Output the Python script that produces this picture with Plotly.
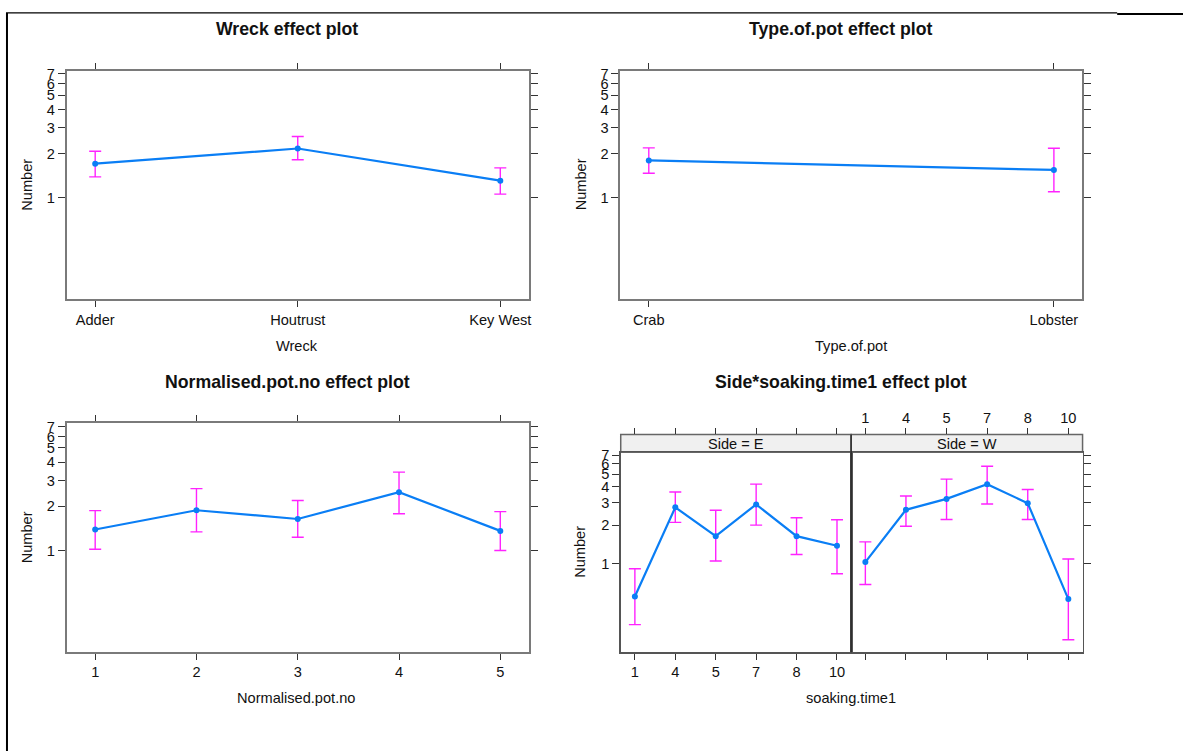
import plotly.graph_objects as go

W, H = 1186, 751

# ---------------- data ----------------
wreck_levels = ["Adder", "Houtrust", "Key West"]
wreck_fit = [1.71, 2.17, 1.31]
wreck_upper = [2.08, 2.62, 1.60]
wreck_lower = [1.39, 1.82, 1.06]

pot_levels = ["Crab", "Lobster"]
pot_fit = [1.80, 1.55]
pot_upper = [2.19, 2.18]
pot_lower = [1.47, 1.10]

potno_levels = [1, 2, 3, 4, 5]
potno_fit = [1.39, 1.88, 1.64, 2.50, 1.36]
potno_upper = [1.87, 2.64, 2.19, 3.42, 1.84]
potno_lower = [1.02, 1.34, 1.23, 1.78, 1.00]

soak_levels = ["1", "4", "5", "7", "8", "10"]
sideE_fit = [0.556, 2.75, 1.64, 2.90, 1.64, 1.38]
sideE_upper = [0.915, 3.62, 2.61, 4.17, 2.28, 2.20]
sideE_lower = [0.336, 2.10, 1.05, 2.00, 1.18, 0.837]
sideW_fit = [1.03, 2.63, 3.20, 4.17, 2.96, 0.531]
sideW_upper = [1.48, 3.37, 4.56, 5.74, 3.79, 1.09]
sideW_lower = [0.689, 1.96, 2.21, 2.92, 2.21, 0.256]

y_ticks = [1, 2, 3, 4, 5, 6, 7]
y_range = [-0.69, 0.868]

LINE = "#0a7ef5"
CI = "#ff22ff"
FONT = "Liberation Sans, Arial, sans-serif"
TS = 14.6


def px_x(p):
    return p / W


def px_y(p):
    return 1 - p / H


fig = go.Figure()


def add_effect(xs, fit, up, lo, xa, ya):
    fig.add_trace(go.Scatter(
        x=xs, y=fit, xaxis=xa, yaxis=ya, mode="lines+markers",
        line=dict(color=LINE, width=2.2),
        marker=dict(color=LINE, size=6, symbol="circle"),
        error_y=dict(type="data", symmetric=False,
                     array=[u - f for u, f in zip(up, fit)],
                     arrayminus=[f - l for f, l in zip(fit, lo)],
                     color=CI, thickness=1.4, width=6),
        showlegend=False, hoverinfo="skip"))


add_effect(wreck_levels, wreck_fit, wreck_upper, wreck_lower, "x", "y")
add_effect(pot_levels, pot_fit, pot_upper, pot_lower, "x2", "y2")
add_effect(potno_levels, potno_fit, potno_upper, potno_lower, "x3", "y3")
add_effect(soak_levels, sideE_fit, sideE_upper, sideE_lower, "x4", "y4")
add_effect(soak_levels, sideW_fit, sideW_upper, sideW_lower, "x5", "y5")
# invisible traces to create the top (overlay) axes of the conditioned panel
fig.add_trace(go.Scatter(x=soak_levels, y=sideE_fit, xaxis="x6", yaxis="y4",
                         mode="markers", marker=dict(opacity=0),
                         showlegend=False, hoverinfo="skip"))
fig.add_trace(go.Scatter(x=soak_levels, y=sideW_fit, xaxis="x7", yaxis="y5",
                         mode="markers", marker=dict(opacity=0),
                         showlegend=False, hoverinfo="skip"))

tickfont = dict(family=FONT, size=TS, color="#111")

base_x = dict(showgrid=False, zeroline=False, showline=True, ticks="outside",
              ticklen=6, tickwidth=1, tickcolor="#333", tickfont=tickfont,
              fixedrange=True)
base_y = dict(type="log", range=y_range, tickvals=y_ticks,
              ticktext=[str(v) for v in y_ticks], showgrid=False,
              zeroline=False, showline=True, ticks="outside", ticklen=7,
              tickwidth=1, tickcolor="#333", tickfont=tickfont, fixedrange=True)

GRAYBOX = dict(linecolor="#7a7a7a", linewidth=2)
COND = dict(linecolor="#555", linewidth=1.5)

# panel boxes (pixels)
P1 = (67, 530, 66, 296)
P2 = (622, 1085, 66, 296)
P3 = (67, 530, 421, 651)
PE = (622.3, 853.3, 450.3, 651.7)
PW = (853.3, 1085.3, 450.3, 651.7)
STRIP_TOP = 432.3


def xdom(p):
    return [px_x(p[0]), px_x(p[1])]


def ydom(p):
    return [px_y(p[3]), px_y(p[2])]


layout = dict(
    width=W, height=H, margin=dict(l=0, r=0, t=0, b=0),
    paper_bgcolor="white", plot_bgcolor="white",
    font=dict(family=FONT, color="#111"),
    xaxis=dict(base_x, **GRAYBOX, domain=xdom(P1), anchor="y", mirror="ticks",
               type="category", categoryarray=wreck_levels,
               range=[-0.14, 2.14]),
    yaxis=dict(base_y, **GRAYBOX, domain=ydom(P1), anchor="x", mirror="ticks"),
    xaxis2=dict(base_x, **GRAYBOX, domain=xdom(P2), anchor="y2", mirror="ticks",
                type="category", categoryarray=pot_levels,
                range=[-0.07, 1.07]),
    yaxis2=dict(base_y, **GRAYBOX, domain=ydom(P2), anchor="x2", mirror="ticks"),
    xaxis3=dict(base_x, **GRAYBOX, domain=xdom(P3), anchor="y3", mirror="ticks",
                tickvals=potno_levels, range=[0.72, 5.28]),
    yaxis3=dict(base_y, **GRAYBOX, domain=ydom(P3), anchor="x3", mirror="ticks"),
    xaxis4=dict(base_x, **COND, domain=xdom(PE),
                anchor="y4", mirror=True, type="category",
                categoryarray=soak_levels, range=[-0.35, 5.35]),
    yaxis4=dict(base_y, **COND, domain=ydom(PE),
                anchor="x4", mirror=True),
    xaxis5=dict(base_x, **COND, domain=xdom(PW),
                anchor="y5", mirror=True, type="category",
                categoryarray=soak_levels, range=[-0.35, 5.35],
                showticklabels=False),
    yaxis5=dict(base_y, **COND, domain=ydom(PW),
                anchor="x5", mirror=True, side="right", showticklabels=False),
    xaxis6=dict(base_x, showline=False, overlaying="x4", anchor="free",
                position=px_y(STRIP_TOP), side="top", type="category",
                categoryarray=soak_levels, range=[-0.35, 5.35],
                showticklabels=False),
    xaxis7=dict(base_x, showline=False, overlaying="x5", anchor="free",
                position=px_y(STRIP_TOP), side="top", type="category",
                categoryarray=soak_levels, range=[-0.35, 5.35],
                showticklabels=True),
)
fig.update_layout(**layout)

shapes = []
# strips
for p in (PE, PW):
    shapes.append(dict(type="rect", xref="paper", yref="paper",
                       x0=px_x(p[0]), x1=px_x(p[1]),
                       y0=px_y(p[2]), y1=px_y(STRIP_TOP),
                       fillcolor="#f0f0f0", line=dict(color="#666", width=1.5),
                       layer="below"))
# divider between conditioned panels
shapes.append(dict(type="line", xref="paper", yref="paper",
                   x0=px_x(PE[1]), x1=px_x(PE[1]),
                   y0=px_y(PE[3]), y1=px_y(STRIP_TOP),
                   line=dict(color="#222", width=1.2)))
# outer page border
shapes.append(dict(type="line", xref="paper", yref="paper", x0=px_x(6), x1=px_x(1120),
                   y0=px_y(8), y1=px_y(8), line=dict(color="black", width=1.2)))
shapes.append(dict(type="line", xref="paper", yref="paper", x0=px_x(1120), x1=px_x(1186),
                   y0=px_y(9), y1=px_y(9), line=dict(color="black", width=2)))
shapes.append(dict(type="line", xref="paper", yref="paper", x0=px_x(7), x1=px_x(7),
                   y0=px_y(8), y1=0, line=dict(color="black", width=2)))
fig.update_layout(shapes=shapes)

ann = []


def text(s, x, y, size=TS, bold=False, angle=0):
    ann.append(dict(text=("<b>%s</b>" % s) if bold else s, xref="paper",
                    yref="paper", x=px_x(x), y=px_y(y), showarrow=False,
                    xanchor="center", yanchor="middle", textangle=angle,
                    font=dict(family=FONT, size=size, color="#111")))


text("Wreck effect plot", 288, 24, 17.7, True)
text("Type.of.pot effect plot", 843, 24, 17.7, True)
text("Normalised.pot.no effect plot", 288, 380, 17.7, True)
text("Side*soaking.time1 effect plot", 843, 380, 17.7, True)
text("Wreck", 298, 343)
text("Type.of.pot", 853, 343)
text("Normalised.pot.no", 297, 698)
text("soaking.time1", 853, 698)
text("Number", 27, 181, angle=-90)
text("Number", 582, 181, angle=-90)
text("Number", 27, 536, angle=-90)
text("Number", 582, 551, angle=-90)
text("Side = E", 738, 441.5)
text("Side = W", 969, 441.5)
fig.update_layout(annotations=ann)

fig.write_html(
    "out.html",
    config={"displayModeBar": False, "staticPlot": True},
    post_script=(
        "document.body.style.margin='0';"
        "document.body.style.overflow='hidden';"
        "var d=document.getElementById('{plot_id}');"
        "d.style.position='absolute';d.style.top='0px';d.style.left='0px';"
    ))
